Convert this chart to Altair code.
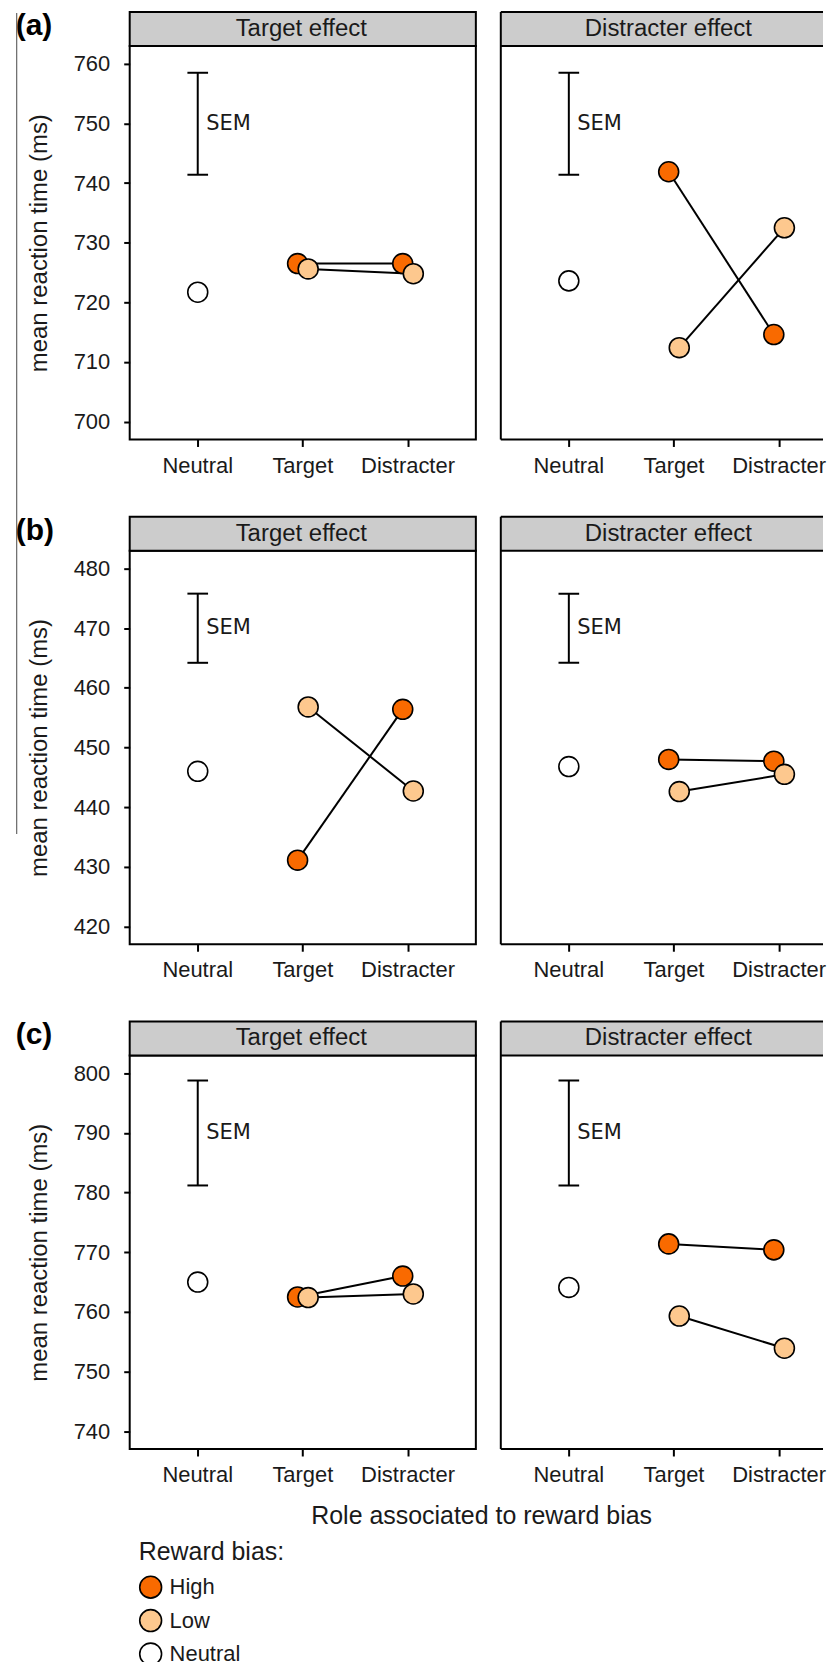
import altair as alt
import pandas as pd

# ---------------- data ----------------
ROLES = ["Neutral", "Target", "Distracter"]
BIAS = ["High", "Low", "Neutral"]
BIAS_COLORS = ["#F96A00", "#FDC88E", "#FFFFFF"]
EFFECTS = ["Target effect", "Distracter effect"]
TAGS = ["(a)", "(b)", "(c)"]

# experiment (a)   per effect: [Target effect, Distracter effect]
a_neutral = [721.7, 723.6]
a_high = [[726.5, 726.5], [741.9, 714.6]]   # [Target role, Distracter role]
a_low = [[725.6, 724.8], [712.4, 732.5]]
a_sem = [741.4, 758.5]
a_ticks = [700, 710, 720, 730, 740, 750, 760]
a_domain = [697, 763]

# experiment (b)
b_neutral = [446.0, 446.8]
b_high = [[431.1, 456.4], [448.0, 447.7]]
b_low = [[456.8, 442.7], [442.6, 445.5]]
b_sem = [464.2, 475.8]
b_ticks = [420, 430, 440, 450, 460, 470, 480]
b_domain = [417, 483]

# experiment (c)
c_neutral = [765.0, 764.1]
c_high = [[762.5, 766.0], [771.4, 770.4]]
c_low = [[762.4, 763.0], [759.3, 753.9]]
c_sem = [781.2, 798.8]
c_ticks = [740, 750, 760, 770, 780, 790, 800]
c_domain = [737, 803]

EXPERIMENTS = [
    (a_neutral, a_high, a_low, a_sem, a_ticks, a_domain),
    (b_neutral, b_high, b_low, b_sem, b_ticks, b_domain),
    (c_neutral, c_high, c_low, c_sem, c_ticks, c_domain),
]

# ---------------- styling ----------------
W_FULL = 347          # left panel width
W_RIGHT = 323         # right panel is cut by the page edge
STEP = 105.4          # spacing between categories
FIRST = 68.2          # position of first category from the panel's left edge
H = 394.5
STRIP_H = 34
FONT = "Liberation Sans"
TXT = "#1a1a1a"


def panel(ri, ei, neutral, high, low, sem, ticks, domain):
    left = ei == 0
    last = ri == 2
    w = W_FULL if left else W_RIGHT
    df = pd.DataFrame({
        "role": ["Neutral", "Target", "Distracter", "Target", "Distracter"],
        "bias": ["Neutral", "High", "High", "Low", "Low"],
        "rt": [neutral[ei], high[ei][0], high[ei][1], low[ei][0], low[ei][1]],
    })
    sem_df = pd.DataFrame({"role": ["Neutral"], "lo": [sem[0]], "hi": [sem[1]],
                           "mid": [(sem[0] + sem[1]) / 2], "lab": ["SEM"]})

    p_out = (w / STEP - 2) / 2
    align = FIRST / (w - 2 * STEP)
    xscale = alt.Scale(type="band", domain=ROLES, paddingInner=1, paddingOuter=p_out,
                       align=align)
    yscale = alt.Scale(domain=domain, zero=False, nice=False)
    xo = alt.XOffset("bias:N", scale=alt.Scale(type="point", domain=["High", "Neutral", "Low"],
                                               range=[-5.3, 5.3], padding=0))

    xaxis_kw = dict(labelFont=FONT, labelFontSize=22, labelColor=TXT, labelAngle=0,
                    tickSize=7, tickWidth=2, tickColor="black", domain=False, grid=False,
                    labelPadding=8.7)
    if last and left:
        xaxis = alt.Axis(title="Role associated to reward bias", titleX=352.3, titleY=75,
                         titleAlign="center", titleBaseline="alphabetic", titleAngle=0,
                         titleFont=FONT, titleFontSize=25, titleFontWeight="normal",
                         titleColor=TXT, **xaxis_kw)
    else:
        xaxis = alt.Axis(title=None, **xaxis_kw)

    if left:
        yaxis = alt.Axis(values=ticks, title="mean reaction time (ms)", titleFont=FONT,
                         titleFontSize=24, titleFontWeight="normal", titleColor=TXT,
                         titlePadding=22, labelFont=FONT, labelFontSize=22, labelColor=TXT,
                         tickSize=6, tickWidth=2, tickColor="black", labelPadding=14,
                         domain=False, grid=False)
    else:
        yaxis = None

    def X():
        return alt.X("role:N", scale=xscale, axis=xaxis)

    def Y(field):
        return alt.Y(field, scale=yscale, axis=yaxis, title="mean reaction time (ms)")

    strip_df = pd.DataFrame({"label": [EFFECTS[ei]], "tag": [TAGS[ri]]})
    layers = []
    if left:
        layers.append(alt.Chart(strip_df).mark_rect(fill="#CCCCCC", stroke="black", strokeWidth=2).encode(
            x=alt.value(0), x2=alt.value("width"), y=alt.value(-STRIP_H), y2=alt.value(0)))
    else:
        layers.append(alt.Chart(strip_df).mark_rect(fill="#CCCCCC").encode(
            x=alt.value(0), x2=alt.value("width"), y=alt.value(-STRIP_H), y2=alt.value(0)))
        # borders of the cut panel (left, top, bottom)
        layers.append(alt.Chart(strip_df).mark_rule(color="black", strokeWidth=2).encode(
            x=alt.value(0), y=alt.value(-STRIP_H), y2=alt.value("height")))
        for yy in [-STRIP_H, 0, "height"]:
            layers.append(alt.Chart(strip_df).mark_rule(color="black", strokeWidth=2).encode(
                x=alt.value(0), x2=alt.value("width"), y=alt.value(yy)))

    layers.append(alt.Chart(strip_df).mark_text(font=FONT, fontSize=24, color=TXT,
                                                baseline="alphabetic", align="center").encode(
        text="label:N", x=alt.value(172 if left else 168), y=alt.value(-10)))

    layers.append(alt.Chart(sem_df).mark_rule(color="black", strokeWidth=2).encode(
        x=X(), y=Y("lo:Q"), y2="hi:Q"))
    for f in ["lo:Q", "hi:Q"]:
        layers.append(alt.Chart(sem_df).mark_tick(color="black", thickness=2, size=20.7, opacity=1).encode(
            x=X(), y=Y(f)))
    layers.append(alt.Chart(sem_df).mark_text(font="DejaVu Sans", fontSize=21, color=TXT,
                                              align="left", baseline="middle", dx=8.5).encode(
        x=X(), y=Y("mid:Q"), text="lab:N"))

    layers.append(alt.Chart(df).transform_filter(alt.datum.bias != "Neutral").mark_line(
        color="black", strokeWidth=2).encode(
        x=X(), xOffset=xo, y=Y("rt:Q"), detail="bias:N"))

    layers.append(alt.Chart(df).mark_circle(size=400, stroke="black", strokeWidth=1.6, opacity=1).encode(
        x=X(), xOffset=xo, y=Y("rt:Q"),
        fill=alt.Fill("bias:N", scale=alt.Scale(domain=BIAS, range=BIAS_COLORS),
                      legend=alt.Legend(title="Reward bias:", orient="none", legendX=9, legendY=1498,
                                        direction="vertical", titleFont=FONT, titleFontSize=25,
                                        titleFontWeight="normal", titleColor=TXT, titlePadding=10,
                                        labelFont=FONT, labelFontSize=22, labelColor=TXT,
                                        labelOffset=7, symbolType="circle", symbolSize=480,
                                        symbolStrokeColor="black", symbolStrokeWidth=1.6,
                                        symbolOpacity=1, rowPadding=3.5, padding=0)),
    ))

    if left:
        layers.append(alt.Chart(strip_df).mark_text(font=FONT, fontSize=30, fontWeight="bold",
                                                    color="black", align="left", baseline="top").encode(
            text="tag:N", x=alt.value(-114.3), y=alt.value(-35)))
        if ri == 0:
            # thin vertical page line visible at the left of the original figure
            layers.append(alt.Chart(strip_df).mark_rule(color="#666666", strokeWidth=1.2).encode(
                x=alt.value(-113.3), y=alt.value(-33), y2=alt.value(790)))
    ch = alt.layer(*layers).properties(width=w, height=H)
    if not left:
        ch = ch.properties(view=alt.ViewBackground(stroke="transparent", fill="white"))
    return ch


panels = []
for ri, exp in enumerate(EXPERIMENTS):
    for ei in range(2):
        panels.append(panel(ri, ei, *exp))

chart = alt.concat(*panels, columns=2, spacing={"row": 111, "column": 25},
                   bounds="flush", align="each").properties(
    padding={"left": 6, "top": 0, "right": 0, "bottom": 0},
    background="white",
).configure_view(stroke="black", strokeWidth=2, fill="white")

chart.save("out.html", embed_options={"renderer": "svg", "actions": False})
